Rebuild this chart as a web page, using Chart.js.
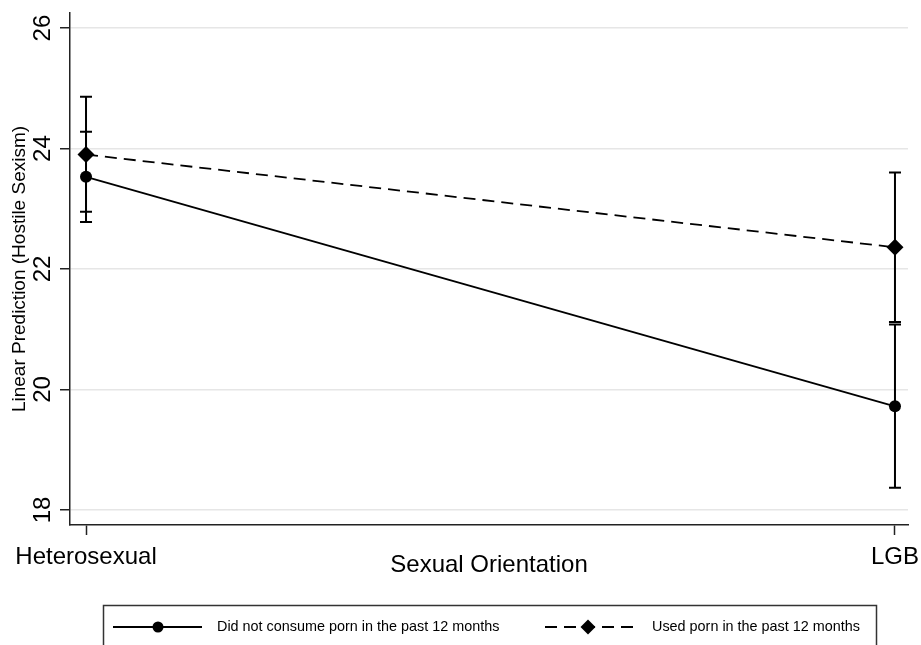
<!DOCTYPE html>
<html>
<head>
<meta charset="utf-8">
<script src="https://cdn.jsdelivr.net/npm/chart.js@4.4.1/dist/chart.umd.min.js"></script>
<style>
  html, body { margin: 0; padding: 0; background: #fff; }
  #wrap { width: 921px; height: 645px; }
</style>
</head>
<body>
<div id="wrap"><canvas id="marginsChart"></canvas></div>
<script>
// sexual orientation groups on the x axis
const orientations = ['Heterosexual', 'LGB'];

// linear prediction of hostile sexism, with 95% CI
const noPorn = [23.53, 19.72];
const noPornLow = [22.78, 18.37];
const noPornHigh = [24.28, 21.08];

const usedPorn = [23.90, 22.36];
const usedPornLow = [22.95, 21.12];
const usedPornHigh = [24.86, 23.60];

const yTicks = [18, 20, 22, 24, 26];

const seriesLabels = ['Did not consume porn in the past 12 months', 'Used porn in the past 12 months'];

const FONT = "'Liberation Sans', Arial, Helvetica, sans-serif";
const AXIS_COLOR = '#222';

const toPoints = vals => vals.map((v, i) => ({ x: i, y: v }));

// vertical CI bars with caps, drawn under the markers
const errorBars = {
    id: 'errorBars',
    beforeDatasetsDraw(chart) {
        const { ctx, scales: { x, y } } = chart;
        const ranges = [[noPornLow, noPornHigh], [usedPornLow, usedPornHigh]];
        ctx.save();
        ctx.strokeStyle = '#000';
        ctx.lineWidth = 2;
        ranges.forEach(([low, high]) => {
            low.forEach((lo, i) => {
                const px = x.getPixelForValue(i);
                const y1 = y.getPixelForValue(lo);
                const y2 = y.getPixelForValue(high[i]);
                ctx.beginPath();
                ctx.moveTo(px, y1);
                ctx.lineTo(px, y2);
                ctx.moveTo(px - 6, y1);
                ctx.lineTo(px + 6, y1);
                ctx.moveTo(px - 6, y2);
                ctx.lineTo(px + 6, y2);
                ctx.stroke();
            });
        });
        ctx.restore();
    }
};

// boxed legend under the plot, Stata style
const boxLegend = {
    id: 'boxLegend',
    afterDraw(chart) {
        const ctx = chart.ctx;
        const rowY = 627;
        ctx.save();
        ctx.strokeStyle = '#333';
        ctx.lineWidth = 1.5;
        ctx.strokeRect(103.5, 605.5, 773, 60);

        ctx.strokeStyle = '#000';
        ctx.fillStyle = '#000';
        ctx.lineWidth = 2;

        // solid line + circle
        ctx.beginPath();
        ctx.moveTo(113, rowY);
        ctx.lineTo(202, rowY);
        ctx.stroke();
        ctx.beginPath();
        ctx.arc(158, rowY, 5.5, 0, Math.PI * 2);
        ctx.fill();

        // dashed line + diamond
        ctx.setLineDash([12, 7]);
        ctx.beginPath();
        ctx.moveTo(545, rowY);
        ctx.lineTo(635, rowY);
        ctx.stroke();
        ctx.setLineDash([]);
        ctx.beginPath();
        ctx.moveTo(588 - 7.5, rowY);
        ctx.lineTo(588, rowY - 7.5);
        ctx.lineTo(588 + 7.5, rowY);
        ctx.lineTo(588, rowY + 7.5);
        ctx.closePath();
        ctx.fill();

        ctx.font = '14.4px ' + FONT;
        ctx.textBaseline = 'middle';
        ctx.textAlign = 'left';
        ctx.fillText(seriesLabels[0], 217, rowY);
        ctx.fillText(seriesLabels[1], 652, rowY);
        ctx.restore();
    }
};

Chart.defaults.font.family = FONT;
Chart.defaults.color = '#000';

new Chart(document.getElementById('marginsChart'), {
    type: 'line',
    data: {
        datasets: [{
            label: seriesLabels[0],
            data: toPoints(noPorn),
            borderColor: '#000',
            backgroundColor: '#000',
            borderWidth: 1.8,
            pointStyle: 'circle',
            pointRadius: 6,
            pointBorderWidth: 0,
        }, {
            label: seriesLabels[1],
            data: toPoints(usedPorn),
            borderColor: '#000',
            backgroundColor: '#000',
            borderWidth: 1.8,
            borderDash: [12, 7],
            pointStyle: 'rectRot',
            pointRadius: 8.5,
            pointBorderWidth: 0,
        }]
    },
    options: {
        responsive: true,
        maintainAspectRatio: false,
        animation: false,
        layout: { padding: { top: 13, right: 13, bottom: 55, left: 0 } },
        plugins: {
            legend: { display: false },
            tooltip: { enabled: false },
        },
        scales: {
            x: {
                type: 'linear',
                min: -0.0198,
                max: 1.0161,
                afterBuildTicks: scale => { scale.ticks = orientations.map((_, i) => ({ value: i })); },
                afterFit: scale => { scale.height = 65; scale.paddingLeft = 0; scale.paddingRight = 0; },
                ticks: {
                    callback: v => orientations[v],
                    font: { size: 24 },
                    padding: 8,
                    maxRotation: 0,
                },
                grid: {
                    drawOnChartArea: false,
                    drawTicks: true,
                    tickLength: 10,
                    tickColor: AXIS_COLOR,
                    tickWidth: 1.5,
                },
                border: { display: true, color: AXIS_COLOR, width: 1.5 },
                title: {
                    display: true,
                    text: 'Sexual Orientation',
                    font: { size: 24 },
                    padding: { top: 0, bottom: 10 },
                },
            },
            y: {
                min: 17.75,
                max: 26.25,
                afterBuildTicks: scale => { scale.ticks = yTicks.map(v => ({ value: v })); },
                afterFit: scale => { scale.width = 70; scale.paddingTop = 0; scale.paddingBottom = 0; },
                ticks: {
                    font: { size: 24 },
                    minRotation: 90,
                    maxRotation: 90,
                    crossAlign: 'center',
                    padding: 3,
                },
                grid: {
                    color: '#e6e6e6',
                    lineWidth: 1.5,
                    drawTicks: true,
                    tickLength: 10,
                    tickColor: AXIS_COLOR,
                    tickWidth: 1.5,
                },
                border: { display: true, color: AXIS_COLOR, width: 1.5 },
                title: {
                    display: true,
                    text: 'Linear Prediction (Hostile Sexism)',
                    font: { size: 19 },
                    padding: { top: 8, bottom: 0 },
                },
            },
        },
    },
    plugins: [errorBars, boxLegend],
});
</script>
</body>
</html>
